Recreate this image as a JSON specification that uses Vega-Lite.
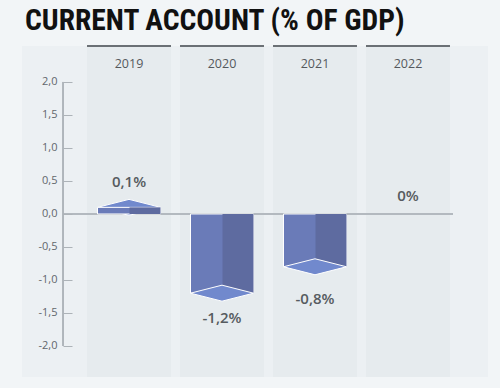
{
  "$schema": "https://vega.github.io/schema/vega-lite/v6.json",
  "width": 466,
  "height": 331,
  "padding": {"left": 22, "top": 5, "right": 12, "bottom": 13},
  "background": "#f2f5f7",
  "title": {
    "text": "CURRENT ACCOUNT (% OF GDP)",
    "anchor": "start",
    "font": "Liberation Sans Narrow, Roboto Condensed, DejaVu Sans Condensed, Roboto, sans-serif",
    "fontSize": 29.5,
    "fontWeight": "bold",
    "color": "#111111",
    "offset": 9,
    "dx": 3
  },
  "config": {
    "view": {"fill": "#ecf0f3", "stroke": null},
    "locale": {"number": {"decimal": ",", "thousands": ".", "grouping": [3], "currency": ["", "€"], "minus": "-"}}
  },
  "data": {
    "values": [
      {"year": "2019", "value": 0.1, "label": "0,1%"},
      {"year": "2020", "value": -1.2, "label": "-1,2%"},
      {"year": "2021", "value": -0.8, "label": "-0,8%"},
      {"year": "2022", "value": 0, "label": "0%"}
    ]
  },
  "encoding": {
    "x": {
      "field": "year",
      "type": "nominal",
      "scale": {"domain": ["2019", "2020", "2021", "2022"], "paddingInner": 0.097, "paddingOuter": 0.554, "align": 0.631},
      "axis": {
        "orient": "top",
        "title": null,
        "offset": -26,
        "domain": false,
        "ticks": false,
        "zindex": 1,
        "labelAngle": 0,
        "labelPadding": 2,
        "labelFont": "Open Sans",
        "labelFontSize": 12.5,
        "labelColor": "#55595d"
      }
    }
  },
  "layer": [
    {
      "mark": {"type": "bar", "fill": "#e6ebee", "width": {"band": 1}},
      "encoding": {
        "y": {
          "datum": 2.545,
          "type": "quantitative",
          "scale": {"domain": [-2.47, 2.545], "nice": false, "zero": false},
          "axis": {
            "values": [-2, -1.5, -1, -0.5, 0, 0.5, 1, 1.5, 2],
            "format": ".1f",
            "title": null,
            "grid": false,
            "domain": false,
            "zindex": 1,
            "offset": -50,
            "tickSize": 9,
            "tickColor": "#adb3b8",
            "labelPadding": 6,
            "labelFont": "Open Sans",
            "labelFontSize": 11,
            "labelColor": "#62676c"
          }
        },
        "y2": {"datum": -2.47}
      }
    },
    {
      "mark": {"type": "rule", "color": "#6b7075", "strokeWidth": 2},
      "encoding": {
        "x": {"field": "year", "type": "nominal", "bandPosition": 0},
        "x2": {"field": "year", "bandPosition": 1},
        "y": {"datum": 2.545, "type": "quantitative"}
      }
    },
    {
      "mark": {"type": "rule", "color": "#b0b6bb", "strokeWidth": 1.2, "xOffset": -24, "x2Offset": 3},
      "encoding": {
        "x": {"datum": "2019", "type": "nominal", "bandPosition": 0},
        "x2": {"datum": "2022", "bandPosition": 1},
        "y": {"datum": 0, "type": "quantitative"}
      }
    },
    {
      "mark": {"type": "rule", "color": "#adb3b8", "strokeWidth": 1, "xOffset": -24},
      "encoding": {
        "x": {"datum": "2019", "type": "nominal", "bandPosition": 0},
        "y": {"datum": -2, "type": "quantitative"},
        "y2": {"datum": 2}
      }
    },
    {
      "transform": [{"filter": "datum.value > 0"}],
      "mark": {"type": "point", "filled": true, "opacity": 1, "shape": "M-1,0L0,-0.254L1,0L0,0.254Z", "size": 3969, "color": "#7189cd", "stroke": "#ffffff", "strokeWidth": 1},
      "encoding": {"y": {"field": "value", "type": "quantitative"}}
    },
    {
      "transform": [{"filter": "datum.value != 0"}],
      "mark": {"type": "bar", "width": 63, "color": "#6a7bb8", "stroke": "#ffffff", "strokeWidth": 1},
      "encoding": {"y": {"field": "value", "type": "quantitative"}, "y2": {"datum": 0}}
    },
    {
      "transform": [{"filter": "datum.value != 0"}],
      "mark": {"type": "bar", "width": 31, "xOffset": 16, "color": "#5e6ba0"},
      "encoding": {"y": {"field": "value", "type": "quantitative"}, "y2": {"datum": 0}}
    },
    {
      "transform": [{"filter": "datum.value < 0"}],
      "mark": {"type": "point", "filled": true, "opacity": 1, "shape": "M-1,0L0,-0.254L1,0L0,0.254Z", "size": 3969, "color": "#7189cd", "stroke": "#ffffff", "strokeWidth": 1},
      "encoding": {"y": {"field": "value", "type": "quantitative"}}
    },
    {
      "mark": {
        "type": "text",
        "font": "Open Sans",
        "fontSize": 15,
        "fontWeight": 600,
        "color": "#565b60",
        "baseline": "middle",
        "dy": {"expr": "datum.year == '2019' ? -25 : datum.year == '2020' ? 25 : datum.year == '2021' ? 32 : -18"}
      },
      "encoding": {
        "y": {"field": "value", "type": "quantitative"},
        "text": {"field": "label"}
      }
    }
  ]
}
